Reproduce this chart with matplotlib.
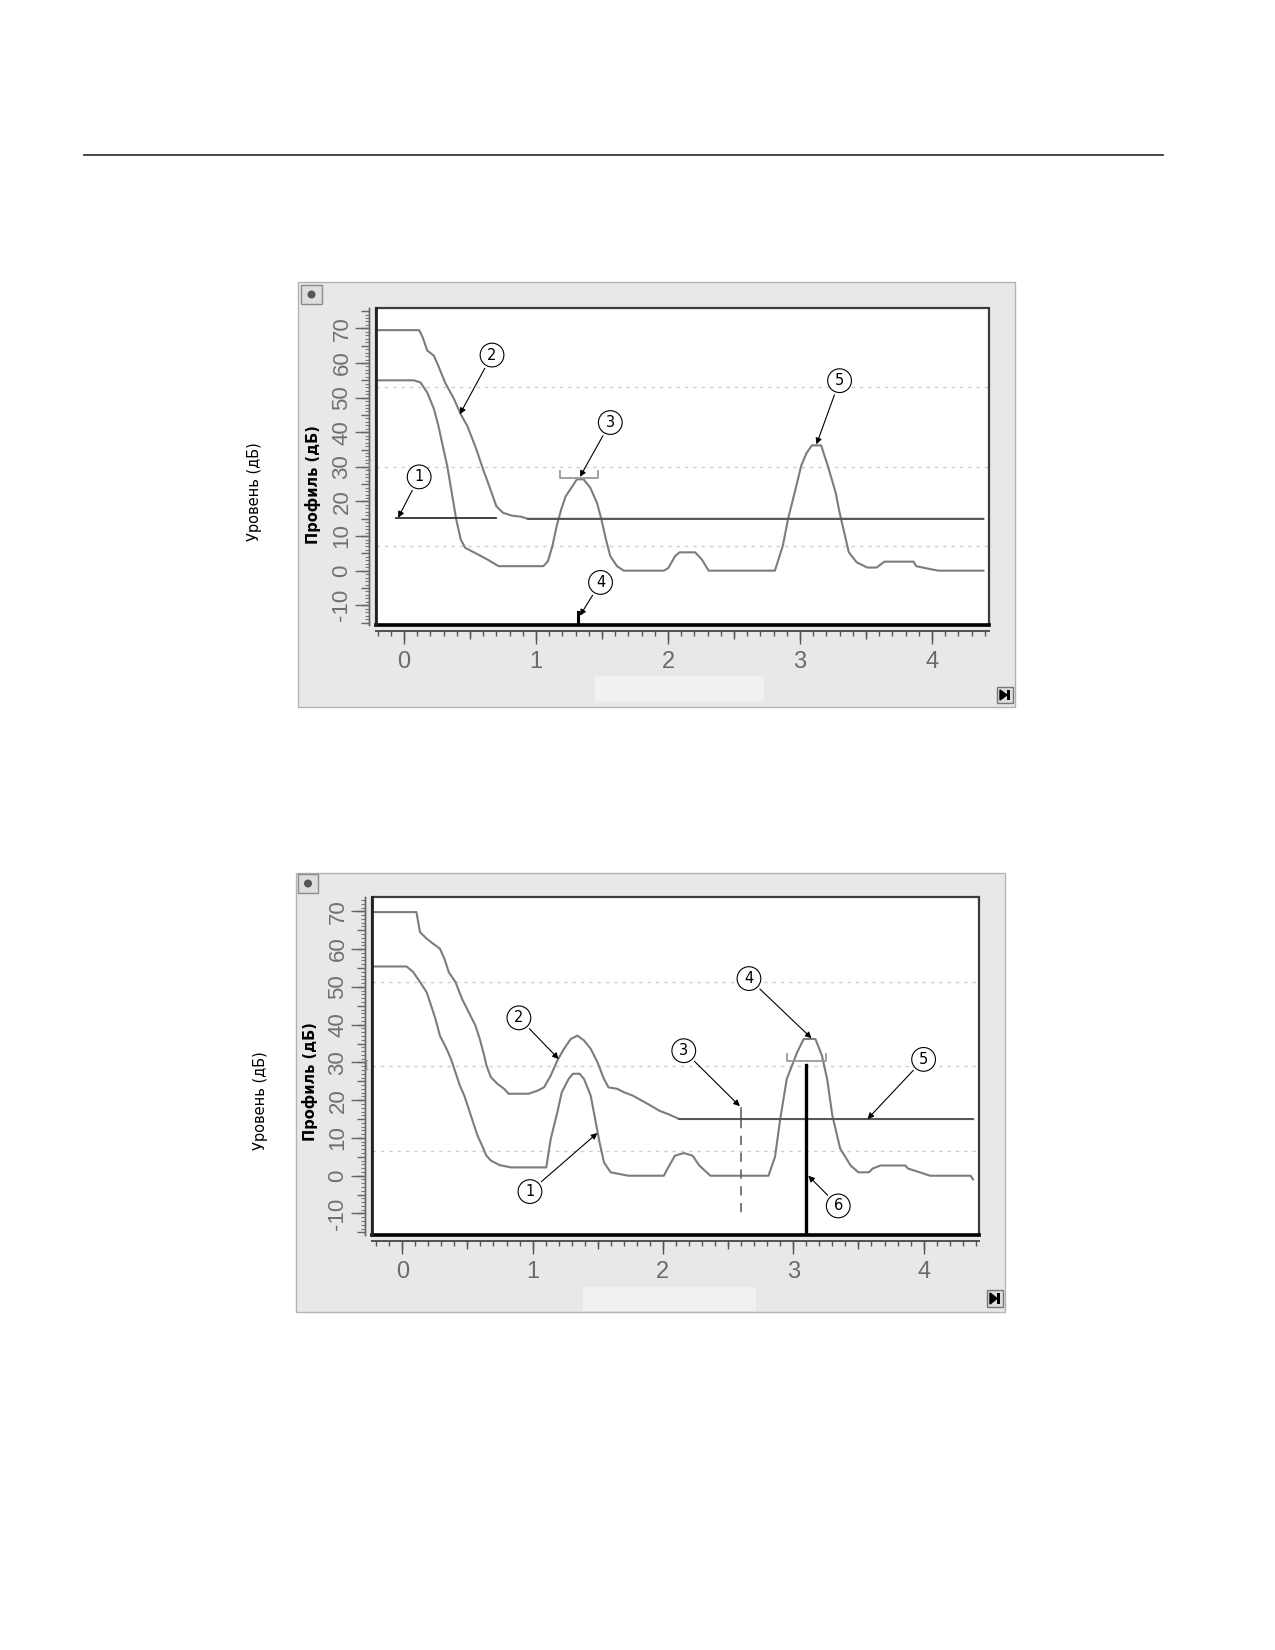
import numpy as np
import matplotlib
matplotlib.use("Agg")
import matplotlib.pyplot as plt
from matplotlib.patches import Rectangle, Ellipse, Polygon
from matplotlib.lines import Line2D
from matplotlib.ticker import MultipleLocator, NullFormatter

plt.rcParams["axes.unicode_minus"] = False

W, H = 1275, 1650

# ---- верхний график ----
p1_tvg_x = [-0.21, 0.115, 0.142, 0.176, 0.227, 0.26, 0.311, 0.379, 0.43, 0.48,
            0.548, 0.599, 0.65, 0.70, 0.751, 0.819, 0.887, 0.937, 4.39]
p1_tvg_y = [69.5, 69.5, 67.4, 63.6, 62.1, 59.2, 54.4, 49.6, 45.2, 41.8,
            35.1, 29.3, 24.0, 18.6, 16.7, 15.9, 15.6, 15.0, 15.0]

p1_echo_x = [-0.21, 0.074, 0.125, 0.176, 0.227, 0.261, 0.294, 0.328, 0.362, 0.396,
             0.430, 0.464, 0.514, 0.565, 0.633, 0.717, 1.056, 1.090, 1.124, 1.157,
             1.191, 1.225, 1.276, 1.310, 1.360, 1.411, 1.462, 1.496, 1.530, 1.563,
             1.614, 1.665, 1.970, 2.003, 2.054, 2.088, 2.206, 2.257, 2.308, 2.81,
             2.87, 2.91, 2.96, 3.01, 3.05, 3.09, 3.16, 3.21, 3.27, 3.30,
             3.37, 3.43, 3.51, 3.58, 3.64, 3.86, 3.88, 3.98, 4.05, 4.39]
p1_echo_y = [55.0, 55.0, 54.4, 51.5, 46.7, 41.8, 36.0, 30.2, 22.5, 14.8,
             9.0, 6.6, 5.6, 4.6, 3.2, 1.3, 1.3, 2.7, 7.1, 12.9,
             17.7, 21.5, 24.4, 26.4, 26.4, 24.0, 19.6, 14.8, 9.0, 4.2,
             1.3, 0.0, 0.0, 0.8, 4.2, 5.3, 5.3, 3.2, 0.0, 0.0,
             7.2, 15.0, 22.6, 30.4, 34.0, 36.2, 36.2, 30.4, 22.6, 16.8,
             5.3, 2.4, 0.9, 0.9, 2.6, 2.6, 1.3, 0.5, 0.0, 0.0]

p1_marker1_x = [-0.06, 0.70]
p1_marker1_y = [15.1, 15.1]
p1_bracket_x = [1.184, 1.472]
p1_bracket_y = 26.9
p1_marker4_x = 1.32
p1_marker4_top = -12.0

# ---- нижний график ----
p2_tvg_x = [-0.23, 0.109, 0.136, 0.187, 0.238, 0.289, 0.323, 0.357, 0.408, 0.459,
            0.510, 0.561, 0.595, 0.629, 0.646, 0.680, 0.731, 0.782, 0.816, 0.969,
            1.037, 1.088, 1.139, 1.190, 1.241, 1.293, 1.344, 1.395, 1.446, 1.497,
            1.548, 1.582, 1.650, 1.701, 1.769, 1.837, 1.905, 1.973, 2.041, 2.126, 4.38]
p2_tvg_y = [69.8, 69.8, 64.5, 62.8, 61.4, 60.1, 57.5, 53.9, 51.3, 46.8,
            43.3, 39.8, 36.2, 31.8, 29.2, 26.1, 24.3, 23.0, 21.7, 21.7,
            22.5, 23.4, 26.5, 30.5, 33.6, 36.2, 37.1, 35.8, 33.6, 30.1,
            25.6, 23.4, 23.0, 22.1, 21.2, 19.9, 18.6, 17.2, 16.3, 15.0, 15.0]

p2_echo_x = [-0.23, 0.034, 0.085, 0.136, 0.187, 0.221, 0.255, 0.289, 0.340, 0.374,
             0.408, 0.442, 0.476, 0.510, 0.544, 0.578, 0.612, 0.646, 0.680, 0.748,
             0.833, 1.105, 1.139, 1.190, 1.224, 1.276, 1.310, 1.361, 1.395, 1.446,
             1.480, 1.514, 1.548, 1.599, 1.735, 2.007, 2.041, 2.092, 2.160, 2.228,
             2.279, 2.364, 2.81, 2.86, 2.90, 2.95, 3.03, 3.08, 3.17, 3.22,
             3.26, 3.30, 3.36, 3.44, 3.50, 3.58, 3.61, 3.67, 3.86, 3.88,
             3.97, 4.05, 4.36, 4.38]
p2_echo_y = [55.4, 55.4, 53.9, 51.3, 48.6, 45.1, 41.5, 37.1, 33.6, 30.9,
             27.4, 23.9, 21.2, 17.7, 14.1, 10.6, 8.0, 5.3, 4.0, 2.8,
             2.2, 2.2, 9.7, 16.8, 22.1, 25.6, 27.0, 27.0, 25.6, 21.2,
             15.0, 8.8, 3.5, 0.9, 0.0, 0.0, 2.2, 5.3, 6.0, 5.3,
             2.7, 0.0, 0.0, 5.0, 15.0, 25.6, 32.7, 36.2, 36.2, 31.8,
             25.6, 15.9, 7.2, 2.7, 0.9, 0.9, 1.9, 2.7, 2.7, 1.9,
             0.9, 0.0, 0.0, -1.0]

p2_dash_x = 2.60
p2_dash_top, p2_dash_bottom = 18.0, -10.6
p2_bracket_x = [2.955, 3.25]
p2_bracket_y = 30.5
p2_marker6_x = 3.10
p2_marker6_top = 29.4

ylabel_outer = "Уровень (дБ)"
ylabel_inner = "Профиль (дБ)"

TICK_FONT = ["Liberation Sans Narrow", "Liberation Sans", "DejaVu Sans"]


def fx(x):
    return x / W


def fy(y):
    return 1 - y / H


def frect(x0, y0, x1, y1, **kw):
    return Rectangle((fx(x0), fy(y1)), (x1 - x0) / W, (y1 - y0) / H,
                     transform=fig.transFigure, **kw)


fig = plt.figure(figsize=(12.75, 16.5), dpi=100)
fig.patch.set_facecolor("white")

# линия вверху страницы
fig.add_artist(Line2D([fx(84), fx(1163)], [fy(155), fy(155)], color="#3a3a3a", lw=1.3))


def make_panel(box, plot, xlim, ylim, light, btn, btn2, ibeam, lab_outer, lab_inner):
    # серое окно (под осями)
    fig.add_artist(frect(*box, facecolor="#e8e8e8", edgecolor="#b4b4b4", lw=1.0, zorder=-5))
    fig.add_artist(frect(*light, facecolor="#f1f1f1", edgecolor="none", zorder=-4))
    # кнопка слева сверху
    fig.add_artist(frect(*btn, facecolor="#dedede", edgecolor="#8c8c8c", lw=1.0, zorder=-3))
    cx, cy = (btn[0] + btn[2]) / 2, (btn[1] + btn[3]) / 2
    fig.add_artist(Ellipse((fx(cx), fy(cy)), 8 / W, 8 / H, transform=fig.transFigure,
                           facecolor="#555555", edgecolor="none", zorder=-2))
    # кнопка справа снизу
    fig.add_artist(frect(*btn2, facecolor="#dcdcdc", edgecolor="#777777", lw=1.0, zorder=-3))
    bx0, by0, bx1, by1 = btn2
    tri = [(fx(bx0 + 3), fy(by0 + 3)), (fx(bx0 + 3), fy(by1 - 3)), (fx(bx1 - 6), fy((by0 + by1) / 2))]
    fig.add_artist(Polygon(tri, closed=True, transform=fig.transFigure, facecolor="black",
                           edgecolor="black", zorder=-2))
    fig.add_artist(frect(bx1 - 6, by0 + 3, bx1 - 3, by1 - 3, facecolor="black", edgecolor="none", zorder=-2))

    px0, py0, px1, py1 = plot
    rect = [fx(px0), fy(py1), (px1 - px0) / W, (py1 - py0) / H]
    ax = fig.add_axes(rect)
    ax_mid = fig.add_axes(rect, facecolor="none")
    ax.set_zorder(2)
    ax_mid.set_zorder(3)
    for a in (ax, ax_mid):
        a.set_xlim(*xlim)
        a.set_ylim(*ylim)
        a.spines["top"].set_visible(False)
        a.spines["right"].set_visible(False)
        a.spines["left"].set_position(("outward", 5))
        a.spines["bottom"].set_position(("outward", 4))
        a.spines["left"].set_color("#666666")
        a.spines["bottom"].set_color("#555555")
        a.spines["left"].set_linewidth(1.0)
        a.spines["bottom"].set_linewidth(1.4)

    ax.yaxis.set_major_locator(MultipleLocator(10))
    ax.yaxis.set_minor_locator(MultipleLocator(1))
    ax.xaxis.set_major_locator(MultipleLocator(1))
    ax.xaxis.set_minor_locator(MultipleLocator(0.1))
    ax.tick_params(axis="y", which="major", length=10, width=1.0, color="#666666",
                   labelcolor="#707070", labelsize=16, labelrotation=90, pad=2)
    ax.tick_params(axis="y", which="minor", length=3, width=0.8, color="#777777")
    ax.tick_params(axis="x", which="major", length=9.5, width=1.0, color="#555555",
                   labelcolor="#6a6a6a", labelsize=17, pad=5)
    ax.tick_params(axis="x", which="minor", length=3.5, width=1.0, color="#555555")
    for lbl in ax.get_xticklabels() + ax.get_yticklabels():
        lbl.set_family(TICK_FONT)
    for lbl in ax.get_yticklabels():
        lbl.set_va("center")

    # средние деления
    ax_mid.yaxis.set_major_locator(MultipleLocator(5))
    ax_mid.xaxis.set_major_locator(MultipleLocator(0.5))
    ax_mid.yaxis.set_major_formatter(NullFormatter())
    ax_mid.xaxis.set_major_formatter(NullFormatter())
    ax_mid.tick_params(axis="y", which="major", length=6, width=1.0, color="#666666")
    ax_mid.tick_params(axis="x", which="major", length=6, width=1.0, color="#555555")

    # сетка: делит поле на четыре части
    for f in (0.25, 0.5, 0.75):
        ax.plot([0, 1], [f, f], transform=ax.transAxes, color="#cfcfcf", lw=1.0,
                dashes=(2.5, 3.5), zorder=1)

    # рамка поля
    ax.add_patch(Rectangle((0, 0), 1, 1, transform=ax.transAxes, fill=False,
                           edgecolor="#3c3c3c", lw=1.6, clip_on=False, zorder=6))
    ax.plot([0, 1], [0, 0], transform=ax.transAxes, color="black", lw=2.6,
            clip_on=False, zorder=7)
    ax.plot([0, 0], [0, 1], transform=ax.transAxes, color="#222222", lw=2.0,
            clip_on=False, zorder=7)

    fig.text(fx(ibeam[0]), fy(ibeam[1]), "I", family="DejaVu Serif", fontsize=9,
             color="#8a8a8a", ha="center", va="center", zorder=5)
    fig.text(fx(lab_inner[0]), fy(lab_inner[1]), ylabel_inner, rotation=90, fontsize=10.5,
             fontweight="bold", ha="center", va="center", color="black", zorder=5)
    fig.text(fx(lab_outer[0]), fy(lab_outer[1]), ylabel_outer, rotation=90, fontsize=10.5,
             ha="center", va="center", color="black", zorder=5)
    return ax


def callout(ax, num, xy, xytext):
    ax.annotate(num, xy=xy, xytext=xytext, fontsize=10.5, ha="center", va="center",
                bbox=dict(boxstyle="circle,pad=0.3", fc="white", ec="black", lw=0.8),
                arrowprops=dict(arrowstyle="-|>", color="black", lw=0.8,
                                mutation_scale=9, shrinkB=0),
                zorder=8)


CURVE = "#7c7c7c"

# ---------- панель 1 ----------
ax1 = make_panel(box=(298, 282, 1015, 707), plot=(376, 308, 989, 625),
                 xlim=(-0.212, 4.432), ylim=(-15.7, 75.9),
                 light=(595, 676, 764, 701), btn=(301, 285, 322, 304),
                 btn2=(997, 687, 1013, 703), ibeam=(369, 467),
                 lab_outer=(255, 492), lab_inner=(313, 485))
ax1.plot(p1_echo_x, p1_echo_y, color=CURVE, lw=1.5, zorder=3)
ax1.plot(p1_tvg_x, p1_tvg_y, color=CURVE, lw=1.5, zorder=3)
ax1.plot(p1_tvg_x[-2:], p1_tvg_y[-2:], color="#555555", lw=1.3, zorder=4)
ax1.plot(p1_marker1_x, p1_marker1_y, color="#333333", lw=1.3, zorder=4)
bx = p1_bracket_x
ax1.plot([bx[0], bx[0], bx[1], bx[1]], [p1_bracket_y + 1.8, p1_bracket_y, p1_bracket_y, p1_bracket_y + 1.8],
         color="#9a9a9a", lw=1.3, zorder=4)
ax1.plot([p1_marker4_x, p1_marker4_x], [-15.7, p1_marker4_top], color="black", lw=2.2, zorder=5)

callout(ax1, "1", xy=(-0.044, 15.3), xytext=(0.115, 27.1))
callout(ax1, "2", xy=(0.423, 45.2), xytext=(0.667, 62.3))
callout(ax1, "3", xy=(1.333, 27.1), xytext=(1.563, 42.8))
callout(ax1, "4", xy=(1.333, -13.0), xytext=(1.489, -3.4))
callout(ax1, "5", xy=(3.125, 36.5), xytext=(3.30, 54.9))

# ---------- панель 2 ----------
ax2 = make_panel(box=(296, 873, 1005, 1312), plot=(372, 897, 979, 1235),
                 xlim=(-0.232, 4.425), ylim=(-15.7, 73.8),
                 light=(583, 1287, 756, 1311), btn=(298, 874, 318, 893),
                 btn2=(987, 1290, 1003, 1307), ibeam=(366, 1066),
                 lab_outer=(260, 1101), lab_inner=(310, 1082))
ax2.plot(p2_echo_x, p2_echo_y, color=CURVE, lw=1.5, zorder=3)
ax2.plot(p2_tvg_x, p2_tvg_y, color=CURVE, lw=1.5, zorder=3)
ax2.plot(p2_tvg_x[-2:], p2_tvg_y[-2:], color="#555555", lw=1.3, zorder=4)
ax2.plot([p2_dash_x, p2_dash_x], [p2_dash_top, 15.0], color="#555555", lw=1.1, zorder=4)
ax2.plot([p2_dash_x, p2_dash_x], [15.0, p2_dash_bottom], color="#555555", lw=1.1,
         dashes=(6, 5), zorder=4)
bx = p2_bracket_x
ax2.plot([bx[0], bx[0], bx[1], bx[1]], [p2_bracket_y + 1.8, p2_bracket_y, p2_bracket_y, p2_bracket_y + 1.8],
         color="#9a9a9a", lw=1.3, zorder=4)
ax2.plot([p2_marker6_x, p2_marker6_x], [-15.7, p2_marker6_top], color="black", lw=2.4, zorder=5)

callout(ax2, "1", xy=(1.497, 11.3), xytext=(0.98, -4.2))
callout(ax2, "2", xy=(1.20, 30.9), xytext=(0.895, 41.8))
callout(ax2, "3", xy=(2.59, 18.4), xytext=(2.16, 33.1))
callout(ax2, "4", xy=(3.14, 36.4), xytext=(2.66, 52.2))
callout(ax2, "5", xy=(3.57, 15.0), xytext=(4.0, 30.8))
callout(ax2, "6", xy=(3.115, 0.0), xytext=(3.345, -8.0))

fig.savefig("out.png", dpi=100)
